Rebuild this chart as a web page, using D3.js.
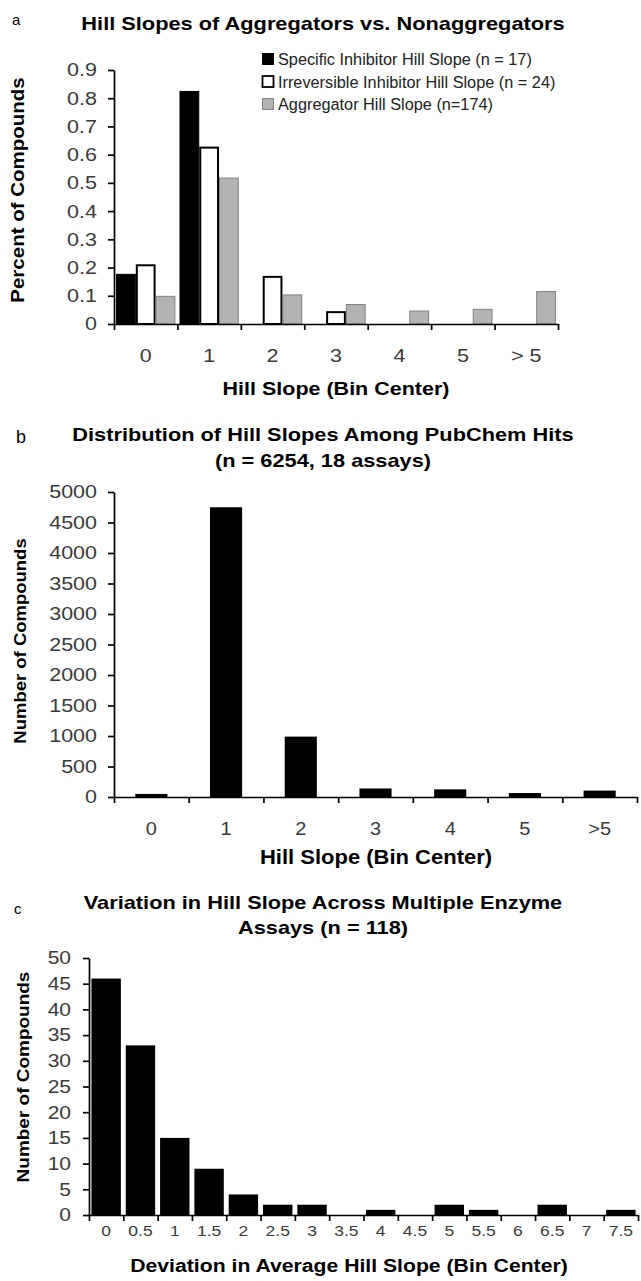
<!DOCTYPE html>
<html>
<head>
<meta charset="utf-8">
<script src="https://cdn.jsdelivr.net/npm/d3@7"></script>
<style>
  body { margin: 0; background: #fff; }
  svg { display: block; font-family: Arial, "Liberation Sans", sans-serif; }
  .squash { transform-box: fill-box; transform-origin: center; transform: scaleY(0.88); }
</style>
</head>
<body>
<div id="container"></div>
<script>
// panel a - fraction of compounds per hill slope bin
const catsA = ["0", "1", "2", "3", "4", "5", "> 5"];
const seriesA = [
  "Specific Inhibitor Hill Slope (n = 17)",
  "Irreversible Inhibitor Hill Slope (n = 24)",
  "Aggregator Hill Slope (n=174)"
];
const specificA = [0.176, 0.824, 0, 0, 0, 0, 0];
const irreversibleA = [0.208, 0.625, 0.167, 0.042, 0, 0, 0];
const aggregatorA = [0.098, 0.517, 0.103, 0.069, 0.046, 0.052, 0.115];
const ticksA = [0, 0.1, 0.2, 0.3, 0.4, 0.5, 0.6, 0.7, 0.8, 0.9];

// panel b - pubchem hits
const catsB = ["0", "1", "2", "3", "4", "5", ">5"];
const countsB = [50, 4750, 990, 140, 125, 65, 105];
const ticksB = [0, 500, 1000, 1500, 2000, 2500, 3000, 3500, 4000, 4500, 5000];

// panel c - deviation across assays
const catsC = ["0", "0.5", "1", "1.5", "2", "2.5", "3", "3.5", "4", "4.5", "5", "5.5", "6", "6.5", "7", "7.5"];
const countsC = [46, 33, 15, 9, 4, 2, 2, 0, 1, 0, 2, 1, 0, 2, 0, 1];
const ticksC = [0, 5, 10, 15, 20, 25, 30, 35, 40, 45, 50];

const WIDTH = 641, HEIGHT = 1281;
const TICK_COLOR = "#3a3a3a";

const svg = d3.select("#container").append("svg")
  .attr("width", WIDTH)
  .attr("height", HEIGHT);

function addLabel(parent, x, y, str, size, opts = {}) {
  let g = parent.append("g")
    .attr("transform", "translate(" + x + "," + y + ")" + (opts.rotate ? " rotate(-90)" : ""));
  let t = g.append("text")
    .attr("text-anchor", opts.anchor || "middle")
    .attr("font-size", size)
    .attr("font-weight", opts.bold ? "bold" : "normal")
    .attr("fill", opts.color || "#000")
    .text(str);
  if (opts.squash !== false) t.attr("class", "squash");
  return t;
}

function styleAxis(ax, fontSize) {
  ax.attr("font-family", null).attr("font-size", fontSize);
  ax.select(".domain").attr("stroke", "#000").attr("stroke-width", 1.7);
  ax.selectAll(".tick line").attr("stroke", "#000").attr("stroke-width", 1.7);
  ax.selectAll(".tick text").attr("fill", TICK_COLOR).attr("class", "squash");
}

function yAxis(parent, y, ticks, xPos, pad, fontSize) {
  let ax = parent.append("g")
    .attr("transform", "translate(" + xPos + ",0)")
    .call(d3.axisLeft(y).tickValues(ticks).tickSize(6).tickSizeOuter(0)
      .tickPadding(pad).tickFormat(d => d));
  styleAxis(ax, fontSize);
}

// x axis: tick marks on the bin edges, labels on the bin centres
function xAxis(parent, band, n, yPos, labelY, fontSize) {
  let range = band.range();
  let edges = d3.scaleLinear().domain([0, n]).range(range);
  let ax = parent.append("g")
    .attr("transform", "translate(0," + yPos + ")")
    .call(d3.axisBottom(edges).tickValues(d3.range(n + 1)).tickSize(6)
      .tickSizeOuter(0).tickFormat(""));
  styleAxis(ax, fontSize);

  let lab = parent.append("g")
    .attr("transform", "translate(0," + yPos + ")")
    .call(d3.axisBottom(band).tickSize(0).tickFormat(d => d));
  lab.select(".domain").remove();
  lab.attr("font-family", null).attr("font-size", fontSize);
  lab.selectAll("text")
    .attr("y", labelY)
    .attr("dy", 0)
    .attr("fill", TICK_COLOR)
    .attr("class", "squash");
}

function drawPanelA() {
  const left = 114, right = 558, top = 70, bottom = 324;
  let g = svg.append("g");

  let x0 = d3.scaleBand().domain(catsA).range([left, right])
    .paddingInner(0.065).paddingOuter(0.0325);
  let x1 = d3.scaleBand().domain(seriesA).range([0, x0.bandwidth()]);
  let y = d3.scaleLinear().domain([0, 0.9]).range([bottom, top]);

  const values = [specificA, irreversibleA, aggregatorA];
  const fills = ["#000", "#fff", "#b3b3b3"];
  const strokes = ["#000", "#000", "#808080"];
  const widths = [1, 2, 1];

  seriesA.forEach(function(s, si) {
    let rows = values[si].map((v, i) => ({ cat: catsA[i], v: v })).filter(d => d.v > 0);
    g.selectAll(null)
      .data(rows)
      .enter()
      .append("rect")
      .attr("x", d => x0(d.cat) + x1(s) + widths[si] / 2)
      .attr("y", d => y(d.v))
      .attr("width", x1.bandwidth() - widths[si])
      .attr("height", d => y(0) - y(d.v))
      .attr("fill", fills[si])
      .attr("stroke", strokes[si])
      .attr("stroke-width", widths[si]);
  });

  yAxis(g, y, ticksA, left, 11, 21.5);
  xAxis(g, x0, catsA.length, bottom, 39, 21.5);

  // legend
  let legend = g.append("g");
  seriesA.forEach(function(s, i) {
    let cy = 59 + i * 22.5;
    legend.append("rect")
      .attr("x", 262.5).attr("y", cy - 5.5)
      .attr("width", 11).attr("height", 11)
      .attr("fill", fills[i])
      .attr("stroke", strokes[i])
      .attr("stroke-width", i == 1 ? 1.8 : 1);
    addLabel(legend, 278, cy + 6, s, 16.3, { anchor: "start", color: "#222", squash: false });
  });

  addLabel(g, 12, 25, "a", 15, { anchor: "start", squash: false });
  addLabel(g, 323, 31, "Hill Slopes of Aggregators vs. Nonaggregators", 21.8, { bold: true });
  addLabel(g, 25, 190, "Percent of Compounds", 20.5, { bold: true, rotate: true });
  addLabel(g, 336, 396, "Hill Slope (Bin Center)", 21.5, { bold: true });
}

function drawPanelB() {
  const left = 114, right = 637, top = 492, bottom = 797;
  let g = svg.append("g");

  let x = d3.scaleBand().domain(catsB).range([left, right])
    .paddingInner(0.57).paddingOuter(0.285);
  let y = d3.scaleLinear().domain([0, 5000]).range([bottom, top]);

  g.selectAll(null)
    .data(countsB)
    .enter()
    .append("rect")
    .attr("x", (d, i) => x(catsB[i]))
    .attr("y", d => y(d))
    .attr("width", x.bandwidth())
    .attr("height", d => y(0) - y(d))
    .attr("fill", "#000");

  yAxis(g, y, ticksB, left, 11, 21.5);
  xAxis(g, x, catsB.length, bottom, 39, 20);

  addLabel(g, 16, 443, "b", 18, { anchor: "start", squash: false });
  addLabel(g, 323, 442, "Distribution of Hill Slopes Among PubChem Hits", 21.8, { bold: true });
  addLabel(g, 323, 468, "(n = 6254, 18 assays)", 21.8, { bold: true });
  addLabel(g, 27, 641, "Number of Compounds", 18.5, { bold: true, rotate: true });
  addLabel(g, 376, 865, "Hill Slope (Bin Center)", 22, { bold: true });
}

function drawPanelC() {
  const left = 89, right = 638, top = 958, bottom = 1215;
  let g = svg.append("g");

  let x = d3.scaleBand().domain(catsC).range([left, right])
    .paddingInner(0.143).paddingOuter(0.0715);
  let y = d3.scaleLinear().domain([0, 50]).range([bottom, top]);

  g.selectAll(null)
    .data(countsC)
    .enter()
    .append("rect")
    .attr("x", (d, i) => x(catsC[i]))
    .attr("y", d => y(d))
    .attr("width", x.bandwidth())
    .attr("height", d => y(0) - y(d))
    .attr("fill", "#000");

  yAxis(g, y, ticksC, left, 12, 21);
  xAxis(g, x, catsC.length, bottom, 22, 17.5);

  addLabel(g, 14, 914, "c", 15, { anchor: "start", squash: false });
  addLabel(g, 323, 910, "Variation in Hill Slope Across Multiple Enzyme", 21.8, { bold: true });
  addLabel(g, 323, 935, "Assays (n = 118)", 21.8, { bold: true });
  addLabel(g, 30, 1077, "Number of Compounds", 19, { bold: true, rotate: true });
  addLabel(g, 349, 1273, "Deviation in Average Hill Slope (Bin Center)", 21.2, { bold: true });
}

drawPanelA();
drawPanelB();
drawPanelC();
</script>
</body>
</html>
